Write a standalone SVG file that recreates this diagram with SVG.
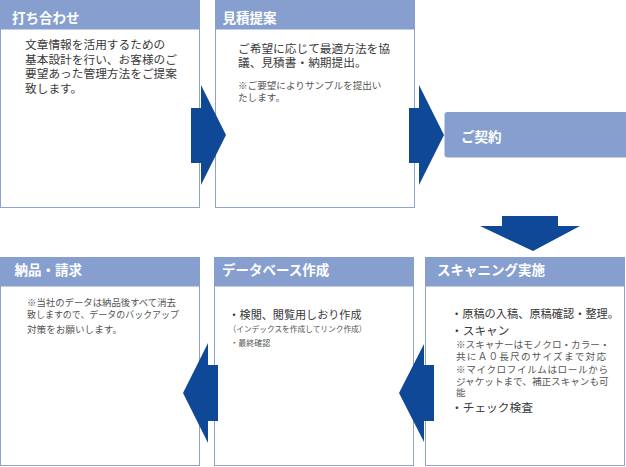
<svg xmlns="http://www.w3.org/2000/svg" width="626" height="467" viewBox="0 0 626 467">
<style>
.box{fill:#fff;stroke:#8ea3d0;stroke-width:1}
.hd{fill:#879fcf;stroke:#879fcf;stroke-width:1}
.ht{font-family:"Noto Sans CJK JP","Noto Sans",sans-serif;font-weight:bold;font-size:13.5px;fill:#fff}
.b{font-family:"Noto Sans CJK JP","Noto Sans",sans-serif;fill:#3a3a3a}
.m{font-size:11.7px}
.s{font-size:9.6px;fill:#555}
.xs{font-size:8px;fill:#555}
.arrow{fill:#0e4896}
</style>
<rect width="626" height="467" fill="#fff"/>

<g id="node-uchiawase">
<rect class="box" x="0.5" y="0.5" width="199" height="207"/>
<rect class="hd" x="0.5" y="0.5" width="199" height="28.5"/>
<text class="ht" x="12" y="22.5">打ち合わせ</text>
<text class="b m" x="25" y="49">文章情報を活用するための</text>
<text class="b m" x="25" y="63.5">基本設計を行い、お客様のご</text>
<text class="b m" x="25" y="78">要望あった管理方法をご提案</text>
<text class="b m" x="25" y="92.5">致します。</text>
</g>

<g id="node-mitsumori">
<rect class="box" x="215.5" y="0.5" width="199" height="207"/>
<rect class="hd" x="215.5" y="0.5" width="199" height="28.5"/>
<text class="ht" x="222.5" y="22.5">見積提案</text>
<text class="b m" x="238" y="53">ご希望に応じて最適方法を協</text>
<text class="b m" x="238" y="66.5">議、見積書・納期提出。</text>
<text class="b s" x="238" y="88.5">※ご要望によりサンプルを提出い</text>
<text class="b s" x="238" y="101">たします。</text>
</g>

<g id="node-keiyaku">
<rect x="444.5" y="112" width="185" height="45.5" rx="3" fill="#879fcf"/>
<text class="ht" x="461" y="142">ご契約</text>
</g>

<g id="node-scanning">
<rect class="box" x="425.5" y="257.5" width="199" height="208"/>
<rect class="hd" x="425.5" y="257.5" width="199" height="28.5"/>
<text class="ht" x="437" y="275">スキャニング実施</text>
<text class="b m" x="451" y="317.5" textLength="168" lengthAdjust="spacingAndGlyphs">・原稿の入稿、原稿確認・整理。</text>
<text class="b m" x="451" y="334.5">・スキャン</text>
<text class="b s" x="456" y="348">※スキャナーはモノクロ・カラー・</text>
<text class="b s" x="456" y="359.5" textLength="150">共にＡ０長尺のサイズまで対応</text>
<text class="b s" x="456" y="373" textLength="152">※マイクロフイルムはロールから</text>
<text class="b s" x="456" y="384.5">ジャケットまで、補正スキャンも可</text>
<text class="b s" x="456" y="395.5">能</text>
<text class="b m" x="451" y="411.5">・チェック検査</text>
</g>

<g id="node-database">
<rect class="box" x="214.5" y="257.5" width="199" height="208"/>
<rect class="hd" x="214.5" y="257.5" width="199" height="28.5"/>
<text class="ht" x="222" y="275">データベース作成</text>
<text class="b m" x="228.5" y="319" textLength="133" lengthAdjust="spacingAndGlyphs">・検閲、閲覧用しおり作成</text>
<text class="b xs" x="228.5" y="332" textLength="138" lengthAdjust="spacingAndGlyphs">（インデックスを作成してリンク作成）</text>
<text class="b xs" x="230.3" y="346">・最終確認</text>
</g>

<g id="node-nouhin">
<rect class="box" x="0.5" y="257.5" width="199" height="208"/>
<rect class="hd" x="0.5" y="257.5" width="199" height="28.5"/>
<text class="ht" x="14.5" y="275">納品・請求</text>
<text class="b s" x="27" y="305.5" textLength="149" lengthAdjust="spacingAndGlyphs">※当社のデータは納品後すべて消去</text>
<text class="b s" x="27" y="318" textLength="152" lengthAdjust="spacingAndGlyphs">致しますので、データのバックアップ</text>
<text class="b s" x="27" y="333">対策をお願いします。</text>
</g>

<g id="connectors">
<polygon class="arrow" points="191,108 201,108 201,85 226,135 201,185 201,163 191,163"/>
<polygon class="arrow" points="409,108 419,108 419,85 444,135 419,185 419,163 409,163"/>
<polygon class="arrow" points="502,216 558,216 558,226 580,226 533,251 480,226 502,226"/>
<polygon class="arrow" points="434,365 424,365 424,344 399,393 424,442 424,421 434,421"/>
<polygon class="arrow" points="218,365 208,365 208,343 183,393 208,443 208,421 218,421"/>
</g>
</svg>
